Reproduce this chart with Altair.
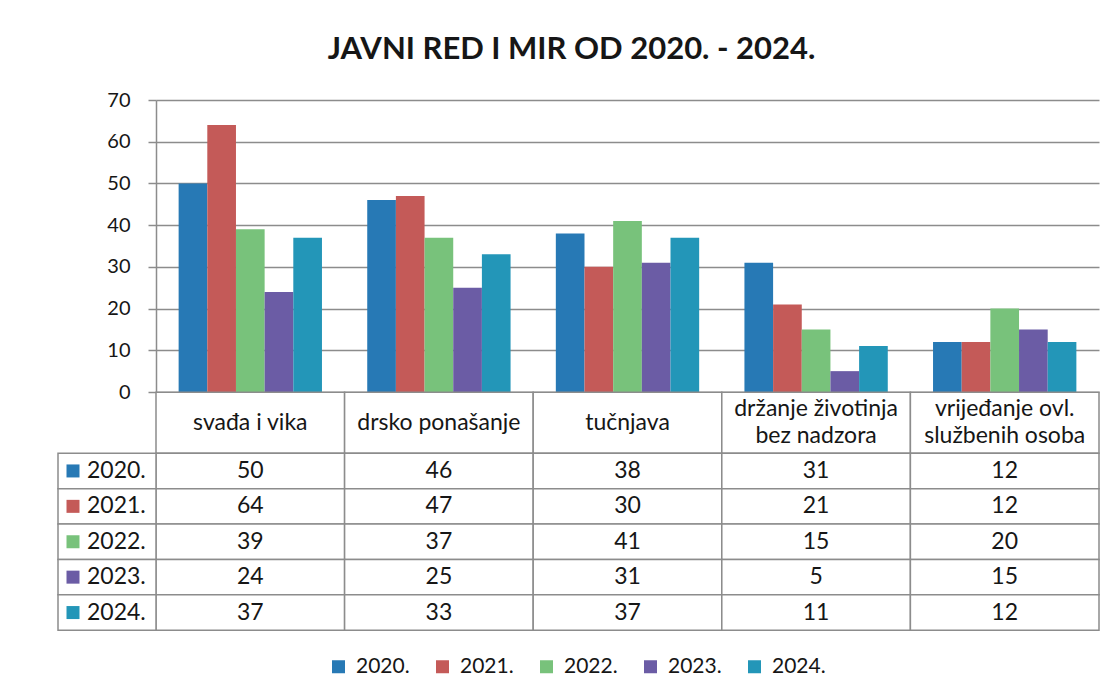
import altair as alt
import pandas as pd

title_text = "JAVNI RED I MIR OD 2020. - 2024."
categories = ["svađa i vika", "drsko ponašanje", "tučnjava",
              "držanje životinja bez nadzora", "vrijeđanje ovl. službenih osoba"]
header_line1 = ["svađa i vika", "drsko ponašanje", "tučnjava",
                "držanje životinja", "vrijeđanje ovl."]
header_line2 = ["", "", "", "bez nadzora", "službenih osoba"]
years = ["2020.", "2021.", "2022.", "2023.", "2024."]
v2020 = [50, 46, 38, 31, 12]
v2021 = [64, 47, 30, 21, 12]
v2022 = [39, 37, 41, 15, 20]
v2023 = [24, 25, 31, 5, 15]
v2024 = [37, 33, 37, 11, 12]
colors = ["#2779B5", "#C45A58", "#78C27B", "#6B5CA5", "#2396B8"]
y_ticks = [0, 10, 20, 30, 40, 50, 60, 70]

series = [v2020, v2021, v2022, v2023, v2024]
rows = []
for yr, vals in zip(years, series):
    for c, v in zip(categories, vals):
        rows.append({"kat": c, "god": yr, "vr": v})
df = pd.DataFrame(rows)
hdr_df = pd.DataFrame({"kat": categories, "l1": header_line1, "l2": header_line2})
lbl_df = pd.DataFrame({"god": years})

FONT = "Lato"
GRID = "#8c8c8c"
TXT = "#161616"
W = 943
FS = 23

color_scale = alt.Scale(domain=years, range=colors)

bars = alt.Chart(df).mark_bar().encode(
    x=alt.X("kat:N", sort=categories, axis=None,
            scale=alt.Scale(paddingInner=0.24, paddingOuter=0.12)),
    xOffset=alt.XOffset("god:N", sort=years),
    y=alt.Y("vr:Q", scale=alt.Scale(domain=[0, 70], nice=False),
            axis=alt.Axis(values=y_ticks, title=None, grid=True, gridColor=GRID,
                          gridWidth=1.5, domainColor=GRID, domainWidth=1.5,
                          tickColor=GRID, tickWidth=1.5, tickSize=8,
                          labelPadding=18, labelFontSize=20, labelColor=TXT,
                          labelFont=FONT)),
    color=alt.Color("god:N", sort=years, scale=color_scale,
                    legend=alt.Legend(title=None, orient="none", direction="horizontal",
                                      columns=5, legendX=172, legendY=556,
                                      symbolType="square", symbolSize=169,
                                      symbolStrokeWidth=0, labelFontSize=21,
                                      labelFont=FONT, labelColor=TXT,
                                      columnPadding=22, labelOffset=7)),
).properties(width=W, height=292)

hdr_base = alt.Chart(hdr_df).encode(
    x=alt.X("kat:N", sort=categories, axis=None,
            scale=alt.Scale(paddingInner=0, paddingOuter=0)),
)
cell_base = alt.Chart(df).encode(
    x=alt.X("kat:N", sort=categories, axis=None,
            scale=alt.Scale(paddingInner=0, paddingOuter=0)),
    y=alt.Y("god:N", sort=years, axis=None,
            scale=alt.Scale(paddingInner=0, paddingOuter=0)),
)
lbl_base = alt.Chart(lbl_df).encode(
    y=alt.Y("god:N", sort=years, axis=None,
            scale=alt.Scale(paddingInner=0, paddingOuter=0)),
)
table = alt.layer(
    # header row with category names
    hdr_base.mark_rect(fill="white", stroke=GRID, strokeWidth=1.5).encode(
        y=alt.value(-61), y2=alt.value(0)),
    hdr_base.transform_filter("datum.l2 == ''").mark_text(
        font=FONT, fontSize=FS, color=TXT).encode(y=alt.value(-30.5), text="l1:N"),
    hdr_base.transform_filter("datum.l2 != ''").mark_text(
        font=FONT, fontSize=FS, color=TXT, dy=-13.5).encode(y=alt.value(-30.5), text="l1:N"),
    hdr_base.transform_filter("datum.l2 != ''").mark_text(
        font=FONT, fontSize=FS, color=TXT, dy=13.5).encode(y=alt.value(-30.5), text="l2:N"),
    # data cells
    cell_base.mark_rect(fill="white", stroke=GRID, strokeWidth=1.5),
    cell_base.mark_text(font=FONT, fontSize=FS, color=TXT).encode(text="vr:Q"),
    # row labels with colour keys
    lbl_base.mark_rect(fill="white", stroke=GRID, strokeWidth=1.5).encode(
        x=alt.value(-98), x2=alt.value(0)),
    lbl_base.mark_square(size=169, opacity=1).encode(
        x=alt.value(-83),
        fill=alt.Fill("god:N", sort=years, scale=color_scale, legend=None)),
    lbl_base.mark_text(font=FONT, fontSize=FS, color=TXT, align="left").encode(
        x=alt.value(-69), text="god:N"),
).properties(width=W, height=177)

chart = alt.vconcat(bars, table, spacing=-10.75).properties(
    title=alt.TitleParams(title_text, font=FONT, fontSize=31, fontWeight="bold",
                          color=TXT, anchor="middle", offset=24, dx=-7),
    padding={"left": 49, "top": 26, "right": 5, "bottom": 5},
).configure_view(stroke=None).resolve_scale(color="shared").resolve_legend(color="shared")

chart.save("out.html", embed_options={"renderer": "svg", "actions": False})
